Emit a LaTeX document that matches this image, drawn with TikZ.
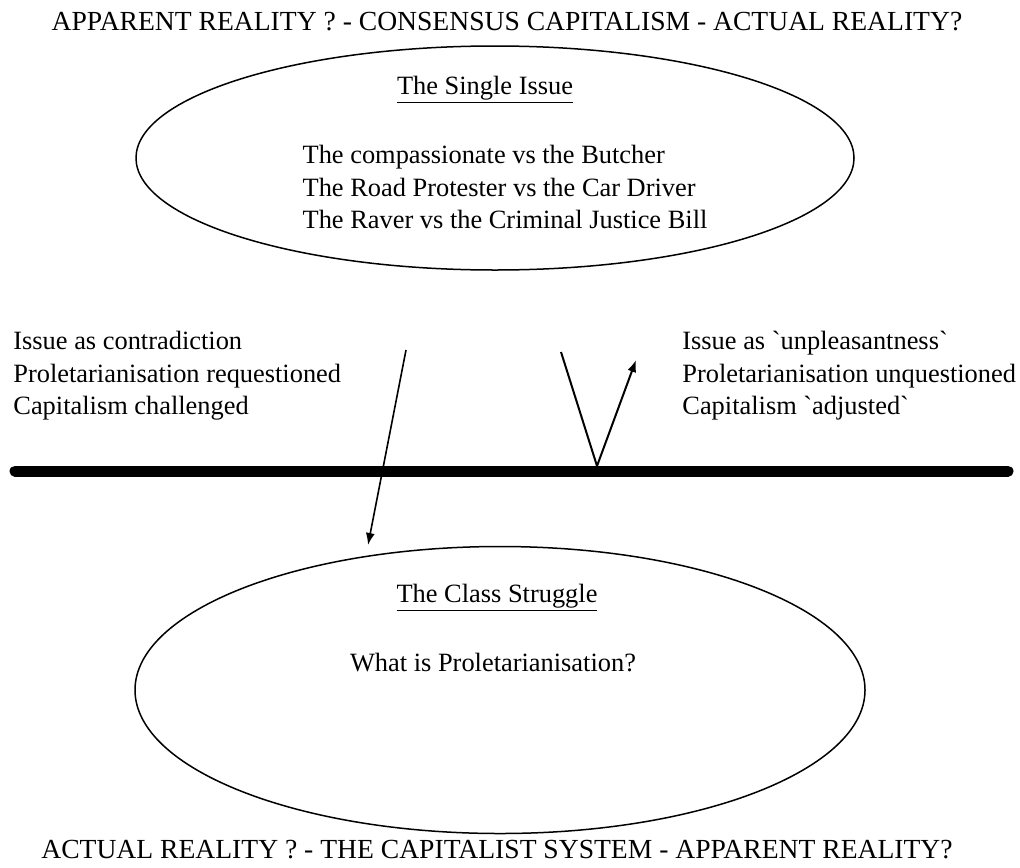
\documentclass[tikz,border=0pt]{standalone}
\usepackage{fontspec}
\setmainfont{Liberation Serif}
\usetikzlibrary{shapes.geometric,arrows.meta}

\begin{document}
\begin{tikzpicture}[x=0.5pt,y=-0.5pt,
  every node/.style={font=\fontsize{13.2}{16.3}\selectfont},
  heading/.style={font=\fontsize{13.8}{16.5}\selectfont},
  oval/.style={draw,ellipse,line width=0.75pt,inner sep=0pt},
  bar/.style={line width=5.5pt,line cap=round},
  link/.style={line width=0.8pt,-{Latex[length=6pt,width=4.5pt]}}]
  \useasboundingbox (0,0) rectangle (1020,867);
  \node (toptitle) [heading] at (507,22) {APPARENT REALITY ? - CONSENSUS CAPITALISM - ACTUAL REALITY?};
  \node (single) [oval,minimum width=359pt,minimum height=112pt] at (495,158) {};
  \node (singlehead) [above of=single, node distance=34pt, xshift=-5pt] {\underline{The Single Issue}};
  \node (singletext) [below of=single, node distance=14.5pt, xshift=5pt, align=left]
    {The compassionate vs the Butcher\\
     The Road Protester vs the Car Driver\\
     The Raver vs the Criminal Justice Bill};
  \node (lefttext) [anchor=west, align=left, inner xsep=0pt] at (13,376)
    {Issue as contradiction\\
     Proletarianisation requestioned\\
     Capitalism challenged};
  \node (righttext) [anchor=west, align=left, inner xsep=0pt] at (682,376)
    {Issue as \textasciigrave unpleasantness\textasciigrave\\
     Proletarianisation unquestioned\\
     Capitalism \textasciigrave adjusted\textasciigrave};
  \coordinate (barL) at (15,471);
  \coordinate (barR) at (1008,471);
  \draw[bar] (barL) -- (barR);
  \node (class) [oval,minimum width=365pt,minimum height=143.5pt] at (500,690) {};
  \node (classhead) [above of=class, node distance=46pt, xshift=-1.5pt] {\underline{The Class Struggle}};
  \node (classtext) [above of=class, node distance=13.5pt, xshift=-3.5pt] {What is Proletarianisation?};
  \node (bottitle) [heading] at (497,850) {ACTUAL REALITY ? - THE CAPITALIST SYSTEM - APPARENT REALITY?};
  % the two ways through the bar
  \coordinate (downfrom) at (406,350);
  \coordinate (downto) at (368,545);
  \coordinate (vtop) at (561,352);
  \coordinate (vbot) at (597,466);
  \coordinate (vtip) at (636,360);
  \draw[link] (downfrom) -- (downto);
  \draw[line width=1pt] (vtop) -- (vbot);
  \draw[link,line width=1pt] (vbot) -- (vtip);
\end{tikzpicture}
\end{document}
